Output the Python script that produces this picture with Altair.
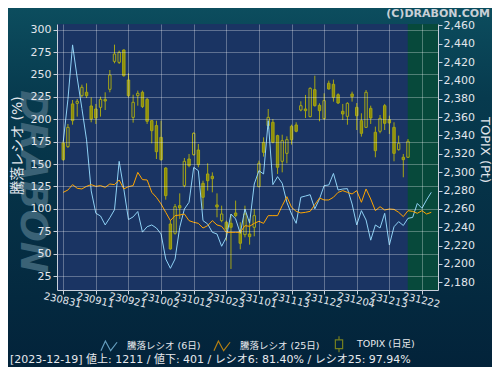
import altair as alt
import pandas as pd

# ---------------- data ----------------
tick_labels = ["230831", "230911", "230921", "231002", "231012", "231023",
               "231101", "231113", "231122", "231204", "231213", "231222"]
tick_step = 7  # trading days between labelled ticks

topix_open = [2331.8, 2327.8, 2374.3, 2375.0, 2383.3, 2387.0, 2372.1, 2368.8, 2370.6, 2379.3,
              2390.2, 2420.7, 2419.6, 2433.1, 2400.4, 2359.7, 2383.3, 2387.0, 2379.3, 2356.1,
              2350.7, 2337.9, 2304.5, 2243.5, 2233.4, 2263.5, 2285.3, 2314.3, 2319.1, 2324.1,
              2287.8, 2298.0, 2295.5, 2264.3, 2247.2, 2245.4, 2244.3, 2255.5, 2236.3, 2231.9,
              2232.6, 2239.9, 2284.2, 2332.5, 2350.7, 2354.3, 2339.8, 2311.8, 2320.5, 2349.9,
              2351.4, 2367.7, 2368.8, 2360.5, 2389.9, 2372.8, 2358.3, 2396.8, 2395.7, 2384.4,
              2366.3, 2360.8, 2385.1, 2370.6, 2356.1, 2348.8, 2369.5, 2343.4, 2344.5, 2372.4,
              2357.2, 2348.8, 2324.5, 2316.2, 2316.2]
topix_high = [2334.3, 2352.5, 2378.6, 2379.7, 2395.3, 2396.8, 2381.5, 2374.3, 2382.2, 2387.0,
              2411.3, 2438.9, 2432.4, 2433.8, 2407.7, 2384.4, 2388.8, 2388.8, 2380.8, 2356.8,
              2356.1, 2356.1, 2305.3, 2247.2, 2265.3, 2276.9, 2315.4, 2319.8, 2343.4, 2330.7,
              2290.7, 2309.6, 2299.8, 2276.9, 2263.5, 2247.2, 2254.4, 2269.0, 2245.4, 2263.5,
              2249.0, 2259.9, 2312.5, 2337.9, 2368.8, 2357.9, 2340.8, 2340.8, 2339.0, 2351.7,
              2354.3, 2377.2, 2384.1, 2392.4, 2405.1, 2375.0, 2385.9, 2399.7, 2400.8, 2385.9,
              2374.3, 2376.1, 2387.7, 2375.3, 2364.1, 2389.5, 2372.4, 2349.6, 2362.3, 2374.3,
              2361.5, 2354.3, 2339.8, 2319.8, 2336.1]
topix_low = [2312.5, 2326.3, 2351.7, 2360.5, 2381.5, 2380.8, 2354.3, 2352.5, 2360.5, 2367.7,
             2387.0, 2418.6, 2417.8, 2404.0, 2381.5, 2353.9, 2372.4, 2369.9, 2352.5, 2331.4,
             2314.3, 2312.5, 2270.0, 2215.6, 2231.9, 2249.0, 2283.5, 2305.3, 2318.0, 2305.3,
             2259.9, 2279.9, 2278.0, 2250.8, 2245.4, 2225.4, 2194.5, 2250.8, 2215.9, 2229.0,
             2221.0, 2230.1, 2283.5, 2316.9, 2347.0, 2331.4, 2298.0, 2299.8, 2309.6, 2330.0,
             2343.4, 2366.3, 2359.0, 2359.7, 2371.4, 2355.4, 2357.2, 2389.9, 2376.8, 2374.3,
             2356.8, 2351.7, 2376.8, 2345.9, 2338.7, 2348.1, 2352.5, 2316.2, 2342.3, 2345.9,
             2341.6, 2311.8, 2323.4, 2294.4, 2315.4]
topix_close = [2313.6, 2348.8, 2356.1, 2377.2, 2392.4, 2383.3, 2357.9, 2359.0, 2379.3, 2377.5,
               2405.8, 2428.7, 2430.5, 2405.1, 2383.3, 2376.1, 2385.9, 2371.4, 2355.4, 2345.2,
               2322.3, 2313.6, 2274.4, 2216.3, 2262.4, 2261.0, 2311.8, 2307.1, 2342.3, 2308.2,
               2272.6, 2290.7, 2292.9, 2262.1, 2254.4, 2238.1, 2239.9, 2252.6, 2222.5, 2254.4,
               2229.7, 2252.6, 2309.6, 2321.6, 2359.7, 2332.5, 2305.3, 2334.3, 2335.4, 2335.4,
               2344.5, 2372.4, 2367.0, 2391.3, 2372.4, 2367.0, 2377.9, 2390.6, 2381.5, 2375.3,
               2363.4, 2375.0, 2382.2, 2361.5, 2342.3, 2387.0, 2359.0, 2323.4, 2358.6, 2353.2,
               2353.6, 2320.5, 2331.4, 2313.6, 2333.6]

ratio6 = [175, 222, 283, 246, 212, 177, 120, 95, 92, 82,
          90, 99, 153, 122, 88, 91, 97, 74, 80, 82,
          78.6, 71.9, 44, 33.6, 44, 79.4, 99.8, 107.3, 146.3, 142.6,
          86.8, 83.1, 73.8, 71.9, 58.2, 68.2, 94.2, 88.7, 72.7, 99.8,
          84, 127.7, 142.6, 138.9, 198.4, 127, 135.9, 128.5, 107.3, 94.2,
          83.8, 112.9, 114.3, 115.8, 100, 111, 125.9, 126.6, 139.5, 121,
          122.1, 122.5, 105.4, 82, 98, 87.5, 65, 82, 78.6, 95,
          59.6, 80, 85.7, 81.4, 89.4, 90.4, 106, 100.6, 110, 118.4]
ratio25 = [118.4, 121, 127, 122.9, 122.2, 125.1, 127, 125.1, 125.9, 124,
           127.7, 127, 132.2, 122.2, 124.8, 125.9, 140.7, 132.6, 132.2, 118.4,
           112.8, 105.4, 96.1, 86.8, 92.4, 93.1, 94.2, 86.8, 85, 83.8,
           78.6, 81.2, 86.8, 82, 80.5, 73.8, 73.8, 73.8, 73.8, 81.2,
           80.5, 83.8, 86.1, 83.8, 92.4, 92.4, 92.4, 103.5, 113.6, 101.7,
           97.2, 95.4, 96.1, 97.2, 104.7, 112.1, 109.9, 109.9, 112.9, 118.4,
           120.3, 118.4, 116.6, 120.3, 107.3, 122.2, 111, 98, 102.4, 98.7,
           99.8, 99.4, 96.1, 91.3, 97.9, 97.2, 95, 98, 94.2, 96.1]

legend_names = ["騰落レシオ (6日)", "騰落レシオ (25日)", "TOPIX (日足)"]
status_date = "2023-12-19"
status_up = 1211
status_down = 401
status_r6 = 81.40
status_r25 = 97.94
future_start = 73.95  # first position of the shaded (future) zone

# ---------------- styling ----------------
FONT = "DejaVu Sans, Noto Sans CJK JP"
C6 = "#8ed1f5"
C25 = "#ffa500"
OLIVE = "#a6a614"
OLIVE_FILL = "#8c8c08"
PLOT_BG = "#1a3463"
FUTURE_BG = "#07493b"
TXT = "#e2e6ec"
W, H = 381, 266
PAD = {"left": 49, "top": 16, "right": 54, "bottom": 77}

candles = pd.DataFrame({"i": list(range(len(topix_open))), "open": topix_open,
                        "high": topix_high, "low": topix_low, "close": topix_close})
candles["top"] = candles[["open", "close"]].max(axis=1)
candles["bot"] = candles[["open", "close"]].min(axis=1)
ratios = pd.DataFrame({"i": list(range(len(ratio6))), "r6": ratio6, "r25": ratio25})
one = pd.DataFrame({"k": [0]})

tick_vals = [k * tick_step for k in range(len(tick_labels))]
label_expr = "[" + ",".join("'" + t + "'" for t in tick_labels) + "][round(datum.value/%d)]" % tick_step

xscale = alt.Scale(domain=[-0.27, 79.37], nice=False, zero=False)
xaxis = alt.Axis(values=tick_vals, labelExpr=label_expr, labelAngle=13, labelAlign="center",
                 labelBaseline="top", labelFontSize=10, labelFont=FONT, labelColor=TXT,
                 labelOverlap=False, labelFlush=False, labelPadding=1, tickSize=4,
                 tickColor="#c8cfdb", domainColor="#c8cfdb", grid=True, gridColor="#ffffff",
                 gridOpacity=0.3, title=None, zindex=1)
yscale_t = alt.Scale(domain=[2171.6, 2461.4], nice=False, zero=False)
yaxis_t = alt.Axis(orient="right", values=list(range(2180, 2461, 20)), format=",d", grid=False,
                   title=None, labelFont=FONT, labelFontSize=11,
                   labelColor=TXT, tickSize=4, labelPadding=1, tickColor="#c8cfdb",
                   domainColor="#c8cfdb", zindex=1)
yscale_r = alt.Scale(domain=[9.4, 306.3], nice=False, zero=False)
yaxis_r = alt.Axis(orient="left", values=list(range(25, 301, 25)), grid=True, gridColor="#ffffff",
                   gridOpacity=0.3, title="騰落レシオ (%)", titleAngle=-90, titleX=-40, titleY=121,
                   titleAlign="center", titleBaseline="middle", titleFontSize=14,
                   titleFontWeight="normal", titleFont=FONT, titleColor=TXT, labelFont=FONT,
                   labelFontSize=11, labelColor=TXT, tickSize=4, labelPadding=2,
                   tickColor="#c8cfdb", domainColor="#c8cfdb", zindex=1)

grad = alt.LinearGradient(gradient="linear", x1=0, x2=0, y1=0, y2=1,
                          stops=[alt.GradientStop(color="#0c4d5e", offset=0),
                                 alt.GradientStop(color="#073a4e", offset=0.25),
                                 alt.GradientStop(color="#03233a", offset=1)])

bg = alt.Chart(one).mark_rect(color=grad).encode(
    x=alt.value(-PAD["left"]), x2=alt.value(W + PAD["right"]),
    y=alt.value(-PAD["top"]), y2=alt.value(H + PAD["bottom"]))
plot_bg = alt.Chart(one).mark_rect(color=PLOT_BG).encode(
    x=alt.value(0), x2=alt.value(W), y=alt.value(0), y2=alt.value(H))
future = alt.Chart(one).mark_rect(color=FUTURE_BG).encode(
    x=alt.datum(future_start, scale=xscale, axis=xaxis), x2=alt.value(W),
    y=alt.value(0), y2=alt.value(H))
watermark = alt.Chart(one).mark_text(text="DRABON", angle=90, font="DejaVu Sans", fontSize=38,
                                     fontWeight="bold", fontStyle="italic", color="#3a6276",
                                     align="center", baseline="middle").encode(
    x=alt.value(-25), y=alt.value(158))
copyright_t = alt.Chart(one).mark_text(text="(C)DRABON.COM", font="DejaVu Sans", fontSize=11,
                                       fontWeight="bold", color="#c8cfd6", align="right",
                                       baseline="alphabetic").encode(
    x=alt.value(433), y=alt.value(-7))
right_title = alt.Chart(one).mark_text(text="TOPIX (Pt)", angle=90, font=FONT, fontSize=13,
                                       color=TXT, align="center", baseline="middle").encode(
    x=alt.value(W + 47), y=alt.value(126))
status = "[%s]  値上: %d / 値下: %d / レシオ6: %.2f%% / レシオ25: %.2f%%" % (
    status_date, status_up, status_down, status_r6, status_r25)
status_t = alt.Chart(one).mark_text(text=status, font=FONT, fontSize=11, color="#e8eaee",
                                    align="left", baseline="alphabetic").encode(
    x=alt.value(-47), y=alt.value(339))

base_c = alt.Chart(candles)
wick_hi = base_c.mark_rule(color=OLIVE, strokeWidth=1).encode(
    x=alt.X("i:Q", scale=xscale, axis=xaxis),
    y=alt.Y("high:Q", scale=yscale_t, axis=yaxis_t),
    y2="top:Q")
wick_lo = base_c.mark_rule(color=OLIVE, strokeWidth=1).encode(
    x=alt.X("i:Q", scale=xscale, axis=xaxis),
    y=alt.Y("bot:Q", scale=yscale_t, axis=yaxis_t),
    y2="low:Q")
body = base_c.mark_bar(size=2.4, stroke=OLIVE, strokeWidth=1).encode(
    x=alt.X("i:Q", scale=xscale, axis=xaxis),
    y=alt.Y("top:Q", scale=yscale_t, axis=yaxis_t),
    y2="bot:Q",
    fill=alt.condition("datum.close >= datum.open", alt.value("transparent"), alt.value(OLIVE_FILL)))

layer_t = alt.layer(bg, plot_bg, future, watermark, copyright_t, right_title, status_t,
                    wick_hi, wick_lo, body)

base_r = alt.Chart(ratios)
line6 = base_r.mark_line(color=C6, strokeWidth=1, clip=True).encode(
    x=alt.X("i:Q", scale=xscale, axis=xaxis),
    y=alt.Y("r6:Q", scale=yscale_r, axis=yaxis_r, title="騰落レシオ (%)"))
line25 = base_r.mark_line(color=C25, strokeWidth=1, clip=True).encode(
    x=alt.X("i:Q", scale=xscale, axis=xaxis),
    y=alt.Y("r25:Q", scale=yscale_r, axis=yaxis_r, title="騰落レシオ (%)"))

zig = "M-1,0.6L-0.45,-0.6L0.2,0.6L1,-0.45"
candle_icon = "M0,-1L0,-0.55M-0.45,-0.55L0.45,-0.55L0.45,0.55L-0.45,0.55ZM0,0.55L0,1"
leg = alt.Legend(title=None, orient="none", legendX=43, legendY=311, direction="horizontal",
                 labelColor="#e8eaee", labelFont=FONT, labelFontSize=9.5, symbolSize=260,
                 symbolStrokeWidth=1.2, labelOffset=9, columnPadding=10, padding=0)
legend_pts = alt.Chart(pd.DataFrame({"name": legend_names})).mark_point(
    filled=False, size=260, strokeWidth=1.2).encode(
    x=alt.value(-600), y=alt.value(-600),
    color=alt.Color("name:N", scale=alt.Scale(domain=legend_names, range=[C6, C25, OLIVE]), legend=leg),
    shape=alt.Shape("name:N", scale=alt.Scale(domain=legend_names, range=[zig, zig, candle_icon]), legend=leg))

layer_r = alt.layer(line6, line25, legend_pts)

chart = alt.layer(layer_t, layer_r).resolve_scale(y="independent").properties(
    width=W, height=H, autosize=alt.AutoSizeParams(type="none"), padding=PAD,
    background="#03233a"
).configure_view(stroke="transparent")

chart.save("out.html", embed_options={"renderer": "svg", "actions": False})
